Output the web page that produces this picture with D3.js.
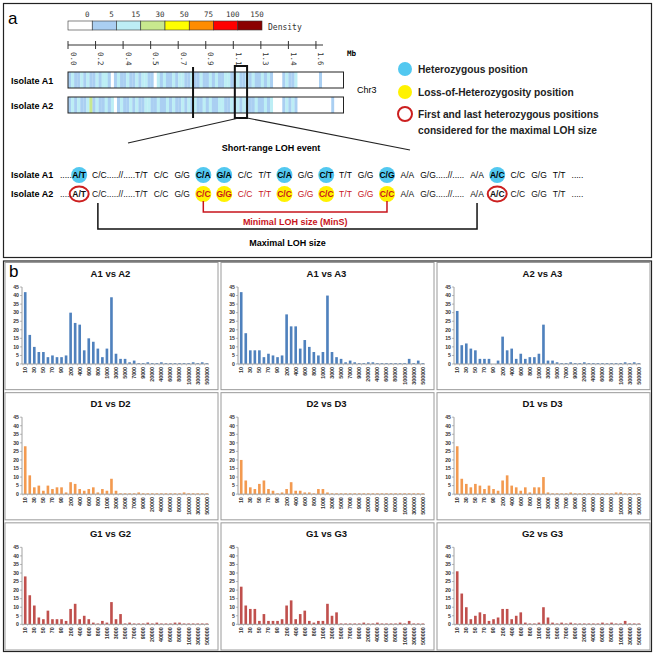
<!DOCTYPE html>
<html>
<head>
<meta charset="utf-8">
<script src="https://cdn.jsdelivr.net/npm/d3@7"></script>
<style>
  body { margin: 0; background: #fff; }
</style>
</head>
<body>
<div id="fig"></div>
<script>
// ---------- panel a data ----------
var densityLabels = ["0", "5", "15", "30", "50", "75", "100", "150"];
var densityBreaks = [1, 5, 15, 30, 50, 75, 100];
var densityColors = ["#ffffff", "#aacff2", "#bdeef5", "#c8e88e", "#ffff00", "#ff8c00", "#ff0000", "#8b0000"];

var mbTicks = [0, 0.18, 0.36, 0.54, 0.72, 0.90, 1.08, 1.26, 1.44, 1.62];
var mbLabels = ["0.0", "0.2", "0.4", "0.5", "0.7", "0.9", "1.1", "1.3", "1.4", "1.6"];

// SNP density in 0.02 Mb bins along Chr3
var densityA1 = [3,8,3,3,8,3,8,3,3,8, 3,8,8,3,0,3,8,3,3,8, 3,3,8,3,8,8,3,3,0,8,
                 3,8,3,3,8,3,8,8,3,3, 8,3,3,8,3,3,8,3,8,3, 3,8,8,3,3,8,3,3,8,3,
                 8,3,3,8,3,8,3,0,0,0, 3,8,3,3,8,0,0,0,0,0, 0,0,2,0,0,0,0,0,0,0];
var densityA2 = [3,8,3,8,3,3,8,16,3,8, 3,3,8,3,8,0,3,8,3,3, 8,3,8,3,3,8,8,3,3,8,
                 3,3,8,3,8,3,3,8,3,8, 3,8,3,3,8,3,8,3,3,8, 8,3,3,8,3,8,3,8,3,3,
                 3,8,3,3,8,3,8,0,0,0, 3,8,3,8,3,0,0,0,0,0, 0,0,0,0,0,0,2,0,0,0];
var chrLengthMb = 1.8;
var centromereMb = 0.817;
var lohWindowMb = [1.09, 1.17];

var seqA1 = [".....", "A/T", "C/C.....//.....T/T", "C/C", "G/G", "C/A", "G/A", "C/C", "T/T", "C/A", "G/G",
             "C/T", "T/T", "G/G", "C/G", "A/A", "G/G.....//.....", "A/A", "A/C", "C/C", "G/G", "T/T", "....."];
var seqA2 = [".....", "A/T", "C/C.....//.....T/T", "C/C", "G/G", "C/C", "G/G", "C/C", "T/T", "C/C", "G/G",
             "C/C", "T/T", "G/G", "C/C", "A/A", "G/G.....//.....", "A/A", "A/C", "C/C", "G/G", "T/T", "....."];
var hetIdx = [1, 5, 6, 9, 11, 14, 18];
var lohIdx = [5, 6, 9, 11, 14];
var ringIdx = [1, 18];
var minsRange = [5, 14];
var maxRange = [2, 17];

// ---------- panel b data ----------
var categories = ["10","20","30","40","50","60","70","80","90","100",
  "200","300","400","500","600","700","800","900","1000",
  "2000","3000","4000","5000","6000","7000","8000","9000","10000",
  "20000","30000","40000","50000","60000","70000","80000","90000","100000",
  "200000","300000","400000","500000"];

var a1a2 = [42,17,10,7,7,4,5,4,4,5, 30,24,23,8,15,13,9,4,9, 39,6,3,3,1,2,0.5,0.5,1,
            0.5,0.5,1,0.5,0.5,0.5,0.5,0.5,0.5, 1,0.5,1,0.5];
var a1a3 = [42,18,8,8,8,4,6,5,4,5, 29,22,22,9,14,10,7,5,7, 40,7,4,3,1,2,1,0.5,0.5,
            1,1,0.5,0.5,0.5,0.5,0.5,0.5,0.5, 3,0.5,2,0.5];
var a2a3 = [31,11,12,9,8,3,3,3,0,2, 16,8,9,3,6,3,4,4,6, 23,2,2,1,0.5,0.5,1,0.5,0.5,
            1,0.5,0.5,0.5,0.5,0.5,0.5,0.5,0.5, 1,0.5,1,0.5];
var d1d2 = [28,11,4,5,2,5,3,4,4,1, 7,6,3,2,3,4,1,3,2, 9,2,0.5,0.5,0.5,0.5,1,0.5,0.5,
            0.5,0.5,0.5,0.5,0.5,0.5,0.5,1,0.5, 0.5,0.5,0.5,0.5];
var d2d3 = [20,8,4,3,6,8,3,2,0.5,1, 3,7,2,2,1,1,0.5,3,3, 1,0.5,0.5,0.5,0.5,0.5,0.5,0.5,0.5,
            0.5,0.5,0.5,0.5,0.5,0.5,0.5,0.5,0.5, 0.5,0.5,0.5,0.5];
var d1d3 = [28,9,6,4,6,5,3,5,3,2, 8,11,5,4,2,4,1,4,4, 10,1,0.5,0.5,0.5,0.5,1,0.5,0.5,
            0.5,0.5,0.5,0.5,0.5,0.5,0.5,1,1, 0.5,0.5,0.5,0.5];
var g1g2 = [28,17,11,4,3,8,3,3,3,2, 9,12,3,5,3,1,0.5,2,1, 13,3,6,0.5,1,0.5,0.5,0.5,1,
            0.5,1,0.5,0.5,0.5,1,1,0.5,0.5, 0.5,0.5,0.5,0.5];
var g1g3 = [22,11,9,9,2,6,2,2,2,3, 11,14,3,6,8,2,1,2,2, 12,5,7,0.5,0.5,0.5,0.5,0.5,1,
            0.5,0.5,1,0.5,0.5,0.5,0.5,1,0.5, 2,0.5,0.5,0.5];
var g2g3 = [31,18,10,3,5,7,6,2,3,4, 9,9,3,5,7,1,0.5,0.5,1, 10,4,1,0.5,1,0.5,1,0.5,0.5,
            0.5,0.5,0.5,0.5,1,0.5,1,0.5,0.5, 2,0.5,0.5,0.5];

var titles = ["A1 vs A2", "A1 vs A3", "A2 vs A3", "D1 vs D2", "D2 vs D3", "D1 vs D3", "G1 vs G2", "G1 vs G3", "G2 vs G3"];
var seriesList = [a1a2, a1a3, a2a3, d1d2, d2d3, d1d3, g1g2, g1g3, g2g3];
var rowColors = ["#4f81bd", "#f39a50", "#c0504d"];
var yTicks = [0, 5, 10, 15, 20, 25, 30, 35, 40, 45];

// ---------- svg ----------
var W = 655, H = 655;
var sans = "'Liberation Sans', Arial, sans-serif";
var mono = "'DejaVu Sans Mono', monospace";

var svg = d3.select("#fig").append("svg")
  .attr("width", W)
  .attr("height", H)
  .style("font-family", sans);

// ================= panel a =================
var pa = svg.append("g");
pa.append("rect").attr("x", 3.5).attr("y", 3.5).attr("width", 648).attr("height", 254)
  .attr("fill", "none").attr("stroke", "#222").attr("stroke-width", 1.2);
pa.append("text").attr("x", 8).attr("y", 24).attr("font-size", 17).text("a");

// density colour key
var keyX = d3.scaleLinear().domain([0, densityColors.length]).range([68, 262]);
pa.selectAll(".key").data(densityColors).enter().append("rect")
  .attr("x", function(d, i) { return keyX(i); })
  .attr("y", 21)
  .attr("width", keyX(1) - keyX(0))
  .attr("height", 9)
  .attr("fill", function(d) { return d; })
  .attr("stroke", "#333").attr("stroke-width", 0.6);
pa.selectAll(".keylab").data(densityLabels).enter().append("text")
  .attr("x", function(d, i) { return keyX(i + 1) - 5; })
  .attr("y", 17)
  .attr("text-anchor", "middle")
  .attr("font-family", mono).attr("font-size", 7.5).attr("fill", "#333")
  .text(function(d) { return d; });
pa.append("text").attr("x", 268).attr("y", 29.5)
  .attr("font-family", mono).attr("font-size", 8).attr("fill", "#333").text("Density");

// Mb axis
var mbScale = d3.scaleLinear().domain([0, chrLengthMb]).range([68, 343.5]);
pa.append("line").attr("x1", 68).attr("x2", 323).attr("y1", 45).attr("y2", 45)
  .attr("stroke", "#333").attr("stroke-width", 1);
pa.selectAll(".mbt").data(mbTicks).enter().append("line")
  .attr("x1", function(d) { return mbScale(d); })
  .attr("x2", function(d) { return mbScale(d); })
  .attr("y1", 41).attr("y2", 49)
  .attr("stroke", "#333");
pa.selectAll(".mbl").data(mbTicks).enter().append("text")
  .attr("transform", function(d) { return "translate(" + (mbScale(d) + 2.5) + ",52) rotate(90)"; })
  .attr("font-family", mono).attr("font-size", 7.5).attr("fill", "#333")
  .text(function(d, i) { return mbLabels[i]; });
pa.append("text").attr("x", 347).attr("y", 56).attr("font-family", mono)
  .attr("font-size", 7.5).attr("font-weight", "bold").text("Mb");

// isolate density tracks
var densColor = d3.scaleThreshold().domain(densityBreaks).range(densityColors);
var binMb = chrLengthMb / densityA1.length;
var tracks = [{ name: "Isolate A1", vals: densityA1, y: 72 }, { name: "Isolate A2", vals: densityA2, y: 97 }];
tracks.forEach(function(t) {
  pa.selectAll(null).data(t.vals).enter().append("rect")
    .attr("x", function(d, i) { return mbScale(i * binMb); })
    .attr("y", t.y)
    .attr("width", mbScale(binMb) - mbScale(0) + 0.2)
    .attr("height", 16)
    .attr("fill", function(d) { return densColor(d); });
  pa.append("rect").attr("x", mbScale(0)).attr("y", t.y)
    .attr("width", mbScale(chrLengthMb) - mbScale(0)).attr("height", 16)
    .attr("fill", "none").attr("stroke", "#222").attr("stroke-width", 1);
  pa.append("text").attr("x", 11).attr("y", t.y + 11.5)
    .attr("font-size", 9).attr("font-weight", "bold").text(t.name);
});
pa.append("text").attr("x", 357).attr("y", 93).attr("font-size", 9).text("Chr3");

// centromere and LOH window
pa.append("line").attr("x1", mbScale(centromereMb)).attr("x2", mbScale(centromereMb))
  .attr("y1", 67).attr("y2", 118).attr("stroke", "#111").attr("stroke-width", 2);
var boxL = mbScale(lohWindowMb[0]), boxR = mbScale(lohWindowMb[1]);
pa.append("rect").attr("x", boxL).attr("y", 66).attr("width", boxR - boxL).attr("height", 52)
  .attr("fill", "none").attr("stroke", "#111").attr("stroke-width", 2);
pa.append("line").attr("x1", boxL + 4).attr("y1", 118).attr("x2", 128).attr("y2", 143)
  .attr("stroke", "#222").attr("stroke-width", 1.2);
pa.append("line").attr("x1", boxR).attr("y1", 118).attr("x2", 410).attr("y2", 150)
  .attr("stroke", "#222").attr("stroke-width", 1.2);
pa.append("text").attr("x", 271).attr("y", 151).attr("text-anchor", "middle")
  .attr("font-size", 9).attr("font-weight", "bold").text("Short-range LOH event");

// legend
var legend = [
  { kind: "het", lines: ["Heterozygous position"], y: 69 },
  { kind: "loh", lines: ["Loss-of-Heterozygosity position"], y: 92 },
  { kind: "ring", lines: ["First and last heterozygous positions", "considered for the maximal LOH size"], y: 114 }
];
legend.forEach(function(l) {
  var c = pa.append("circle").attr("cx", 405).attr("cy", l.y).attr("r", 7);
  if (l.kind === "het") c.attr("fill", "#52c8f0");
  else if (l.kind === "loh") c.attr("fill", "#fff200");
  else c.attr("fill", "none").attr("stroke", "#cc1f1f").attr("stroke-width", 2);
  l.lines.forEach(function(s, j) {
    pa.append("text").attr("x", 418).attr("y", l.y + 4 + j * 16)
      .attr("font-size", 10.2).attr("font-weight", "bold").attr("fill", "#222").text(s);
  });
});

// sequence rows
var seqY1 = 178, seqY2 = 197, gap = 6, seqFont = 8.5;
var measure = pa.append("g");
var centers = [], xCur = 60;
seqA1.forEach(function(tok, i) {
  var t = measure.append("text").attr("font-size", seqFont)
    .attr("font-weight", hetIdx.indexOf(i) >= 0 ? "bold" : "normal").text(tok);
  var w = t.node().getComputedTextLength();
  centers.push(xCur + w / 2);
  xCur += w + (i === 0 ? 0.5 : gap);
});
measure.remove();

var circleG = pa.append("g"), textG = pa.append("g");
hetIdx.forEach(function(i) {
  circleG.append("circle").attr("cx", centers[i]).attr("cy", seqY1 - 3).attr("r", 8).attr("fill", "#52c8f0");
});
lohIdx.forEach(function(i) {
  circleG.append("circle").attr("cx", centers[i]).attr("cy", seqY2 - 3).attr("r", 8).attr("fill", "#fff200");
});
ringIdx.forEach(function(i) {
  circleG.append("ellipse").attr("cx", centers[i]).attr("cy", seqY2 - 3).attr("rx", 9.5).attr("ry", 7.5)
    .attr("fill", "none").attr("stroke", "#cc1f1f").attr("stroke-width", 2);
});
textG.selectAll(".s1").data(seqA1).enter().append("text")
  .attr("x", function(d, i) { return centers[i]; }).attr("y", seqY1)
  .attr("text-anchor", "middle").attr("font-size", seqFont)
  .attr("font-weight", function(d, i) { return hetIdx.indexOf(i) >= 0 ? "bold" : "normal"; })
  .text(function(d) { return d; });
textG.selectAll(".s2").data(seqA2).enter().append("text")
  .attr("x", function(d, i) { return centers[i]; }).attr("y", seqY2)
  .attr("text-anchor", "middle").attr("font-size", seqFont)
  .attr("font-weight", function(d, i) { return (lohIdx.indexOf(i) >= 0 || ringIdx.indexOf(i) >= 0) ? "bold" : "normal"; })
  .attr("fill", function(d, i) { return (i >= minsRange[0] && i <= minsRange[1]) ? "#c8141c" : "#111"; })
  .text(function(d) { return d; });
pa.append("text").attr("x", 11).attr("y", seqY1).attr("font-size", 9).attr("font-weight", "bold").text("Isolate A1");
pa.append("text").attr("x", 11).attr("y", seqY2).attr("font-size", 9).attr("font-weight", "bold").text("Isolate A2");

// brackets
var rL = centers[minsRange[0]], rR = centers[minsRange[1]];
pa.append("path").attr("d", "M" + rL + "," + (seqY2 + 4) + "V212H" + rR + "V" + (seqY2 + 4))
  .attr("fill", "none").attr("stroke", "#c8141c").attr("stroke-width", 1.5);
pa.append("text").attr("x", (rL + rR) / 2).attr("y", 225).attr("text-anchor", "middle")
  .attr("font-size", 9).attr("font-weight", "bold").attr("fill", "#c8141c").text("Minimal LOH size (MinS)");
var bL = centers[maxRange[0]] - 22, bR = centers[maxRange[1]];
pa.append("path").attr("d", "M" + bL + "," + (seqY2 + 6) + "V229H" + bR + "V" + (seqY2 + 6))
  .attr("fill", "none").attr("stroke", "#111").attr("stroke-width", 1.5);
pa.append("text").attr("x", (bL + bR) / 2).attr("y", 246).attr("text-anchor", "middle")
  .attr("font-size", 9).attr("font-weight", "bold").text("Maximal LOH size");

// ================= panel b =================
var pb = svg.append("g");
var pbX = 3.5, pbY = 261, pbW = 648, pbH = 390.5;
var cellW = pbW / 3, cellH = pbH / 3;
pb.append("rect").attr("x", pbX).attr("y", pbY).attr("width", pbW).attr("height", pbH)
  .attr("fill", "none").attr("stroke", "#222").attr("stroke-width", 1.2);

seriesList.forEach(function(vals, k) {
  var col = k % 3, row = Math.floor(k / 3);
  var cx = pbX + col * cellW, cy = pbY + row * cellH;
  var g = pb.append("g");
  g.append("rect").attr("x", cx + 1.5).attr("y", cy + 1.5).attr("width", cellW - 3).attr("height", cellH - 3)
    .attr("fill", "#fff").attr("stroke", "#9a9a9a").attr("stroke-width", 1);

  var x = d3.scaleBand().domain(categories).range([cx + 19.5, cx + 205.5]).paddingInner(0.42).paddingOuter(0.2);
  var y = d3.scaleLinear().domain([0, 45]).range([cy + 103, cy + 26]);
  var axisX = cx + 18.5;

  g.append("text").attr("x", cx + 107).attr("y", cy + 15.5).attr("text-anchor", "middle")
    .attr("font-size", 9.5).attr("font-weight", "bold").attr("fill", "#111").text(titles[k]);

  // y axis
  g.append("line").attr("x1", axisX).attr("x2", axisX).attr("y1", y(0)).attr("y2", y(45))
    .attr("stroke", "#8a8a8a").attr("stroke-width", 0.8);
  g.selectAll(".yt").data(yTicks).enter().append("line")
    .attr("x1", axisX - 2).attr("x2", axisX)
    .attr("y1", function(d) { return y(d); }).attr("y2", function(d) { return y(d); })
    .attr("stroke", "#8a8a8a").attr("stroke-width", 0.6);
  g.selectAll(".yl").data(yTicks).enter().append("text")
    .attr("x", axisX - 3).attr("y", function(d) { return y(d) + 1.8; })
    .attr("text-anchor", "end").attr("font-size", 5.2).attr("font-weight", "bold").attr("fill", "#333")
    .text(function(d) { return d; });

  // bars
  g.selectAll(".bar").data(vals).enter().append("rect")
    .attr("x", function(d, i) { return x(categories[i]); })
    .attr("y", function(d) { return y(d); })
    .attr("width", x.bandwidth())
    .attr("height", function(d) { return y(0) - y(d); })
    .attr("fill", rowColors[row]);

  // x axis
  g.append("line").attr("x1", axisX).attr("x2", cx + 205.5).attr("y1", y(0)).attr("y2", y(0))
    .attr("stroke", "#a0a0a0").attr("stroke-width", 1);
  g.selectAll(".xt").data(categories).enter().append("line")
    .attr("x1", function(d) { return x(d) - x.step() * 0.21; })
    .attr("x2", function(d) { return x(d) - x.step() * 0.21; })
    .attr("y1", y(0)).attr("y2", y(0) + 1.5)
    .attr("stroke", "#a0a0a0").attr("stroke-width", 0.5);
  g.selectAll(".xl").data(categories.filter(function(d, i) { return i % 2 === 0; })).enter().append("text")
    .attr("transform", function(d) {
      return "translate(" + (x(d) + x.bandwidth() / 2 + 1.9) + "," + (y(0) + 3) + ") rotate(-90)";
    })
    .attr("text-anchor", "end").attr("font-size", 5.3).attr("font-weight", "bold").attr("fill", "#333")
    .text(function(d) { return d; });
});

pb.append("text").attr("x", 9).attr("y", 277).attr("font-size", 17).text("b");
</script>
</body>
</html>
